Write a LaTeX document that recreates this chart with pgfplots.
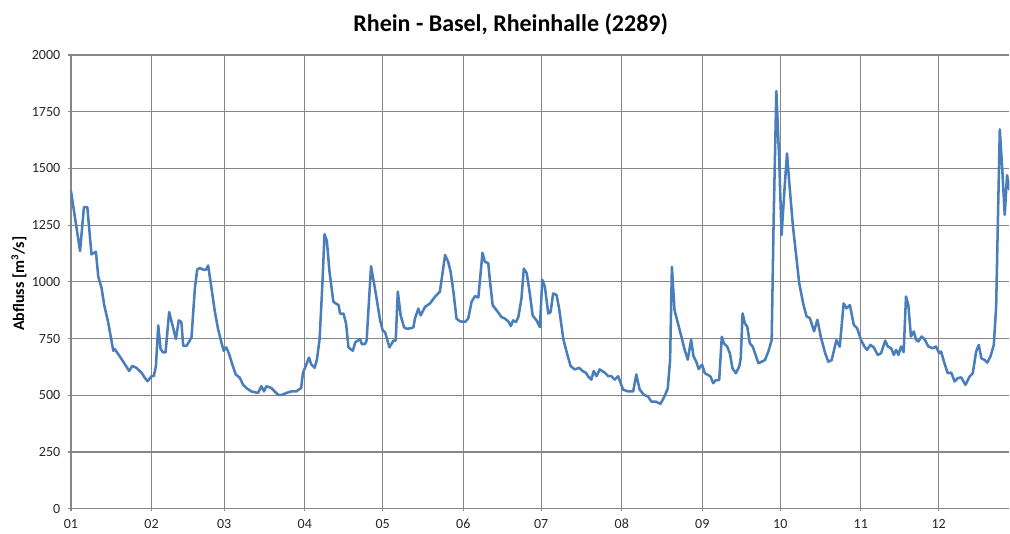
\documentclass[border=0pt]{standalone}
\usepackage{fontspec}
\setmainfont{Carlito}
\usepackage{pgfplots}
\pgfplotsset{compat=1.18}
\definecolor{linie}{RGB}{74,126,187}
\definecolor{gitter}{RGB}{134,134,134}

% Tagesabfluss (Tag des Jahres, m3/s)
\pgfplotstableread{
d q
0 1400
3.5 1136
5 1329
6.3 1329
7.9 1121
9.6 1133
10.5 1024
11.8 972
12.8 897
14.3 823
16.3 696
16.9 703
19.5 659
20.8 636
22.4 607
23.6 629
25.2 621
27.2 599
28.4 577
29.5 562
31 584
31.9 584
32.7 629
33.6 808
34.5 703
35.5 689
36.4 689
37.8 867
39.1 808
40.4 748
41.5 830
42.5 823
43.2 718
44.5 718
45.7 741
46.4 756
47.7 972
48.6 1054
49.6 1061
50.9 1054
52.1 1054
52.8 1072
54.1 972
55.3 875
56.6 793
57.9 733
58.8 696
59.8 711
60.9 681
62.1 636
63.4 592
65 577
66.2 547
67.5 532
69.4 517
72 510
73.3 540
74.3 517
75.2 540
77.1 532
78.4 517
79.7 502
81.3 502
82.9 510
84.8 517
86.7 517
88.6 532
89.3 599
90.6 636
91.6 666
92.5 636
93.8 621
94.7 659
95.7 748
96.7 972
97.6 1210
98.5 1180
99.5 1046
101 912
103 897
103.6 860
104.9 860
105.9 815
106.8 711
108.5 696
109.4 733
111.3 748
111.9 726
113.2 726
113.8 741
115.5 1069
117.1 964
119 830
120 785
120.9 778
122.6 711
124.1 741
125 741
125.8 957
126.9 852
128.2 800
129.2 793
131.1 796
131.8 800
132.4 838
133.7 882
134.6 852
136.3 890
138.2 905
140.1 934
142 957
144 1118
145.2 1088
146.1 1046
147.2 957
148.4 838
149.7 826
151.7 823
152.9 838
154.2 912
155.5 937
156.8 931
158.4 1128
159.3 1088
160.6 1083
161.3 1001
162.3 897
163.8 875
165.7 845
167 838
168.3 826
169.3 805
170.2 830
171.3 823
172.2 845
173.4 927
174.3 1058
175.4 1039
176.6 949
177.7 852
179.2 830
180.5 800
181.4 1009
182.4 979
183.7 860
184.6 867
185.6 949
186.9 942
187.9 882
189.5 748
191 681
192.3 629
193.9 614
195.6 621
196.9 607
198.2 599
199 584
200.3 569
201.2 607
202.3 584
203.5 614
205.5 599
206.8 584
208 584
209.3 569
210.6 584
212.5 525
214.4 517
216.4 517
217.6 592
218.9 525
220.5 502
222.1 495
223.4 472
225.1 472
226.9 462
228.4 494
229.7 530
230.6 654
231.3 1066
232.3 876
233.6 818
234.9 760
236.2 701
237.4 657
238.7 745
239.6 672
240.6 650
241.6 616
242.9 635
244 597
245.3 589
246.2 582
247.2 553
248.2 567
249.5 567
250.5 758
251.3 729
252.6 714
253.6 685
254.6 619
255.9 597
257.2 626
257.8 663
258.5 861
259.4 817
260.3 802
261.3 729
262.4 714
263.3 685
264.6 641
265.8 648
267.1 655
268.4 692
269.7 743
270.5 1301
271.5 1841
272.6 1536
273.5 1206
274.7 1419
275.6 1566
276.6 1419
277.9 1243
278.9 1140
280.3 994
281.8 906
283.1 848
284.4 840
286 782
287.3 833
288.6 758
290.3 685
291.5 648
292.8 655
294.6 743
295.9 714
297.4 905
298.5 883
299.8 898
301.3 810
302.6 795
304.1 743
305.4 715
306.4 700
307.7 722
309 711
310.5 678
311.8 685
313.4 741
314.4 715
315.7 707
316.7 678
317.6 700
318.5 678
319.5 715
320.5 690
321.4 935
322.3 898
323.3 759
324.4 781
325.3 744
326.2 737
327.4 759
328.7 744
330 715
331.7 707
332.9 715
334.2 685
334.9 693
336.2 641
337.5 597
338.8 600
340.1 561
341.3 575
342.6 579
344.3 546
345.9 583
347.1 597
348.4 693
349.4 722
350.4 663
351.6 656
352.7 644
353.9 671
355.2 722
356.1 891
356.8 1287
357.5 1672
358.4 1507
359.4 1295
360.3 1470
361.2 1404
}\abfluss

\begin{document}
\begin{tikzpicture}
\begin{axis}[
    scale only axis, width=704.25pt, height=340.5pt,
    xmin=0, xmax=361.2, ymin=0, ymax=2000,
    axis x line*=bottom, axis y line*=left,
    axis line style={gitter, line width=0.9pt, -},
    xtick={0,31,59,90,120,151,181,212,243,273,304,334},
    xticklabels={01,02,03,04,05,06,07,08,09,10,11,12},
    ytick={0,250,...,2000},
    grid=major,
    major grid style={gitter, line width=0.9pt},
    tick style={gitter, line width=0.9pt},
    major tick length=2pt, tick align=outside,
    tick label style={font=\fontsize{10.5}{12}\selectfont, text=black!85},
    xticklabel style={yshift=-2.5pt},
    yticklabel style={xshift=-2.5pt},
    /pgf/number format/1000 sep={},
    /pgf/number format/assume math mode=true,
    clip=true,
  ]
  \addplot[linie, line width=1.9pt, line join=round] table[x=d, y=q] {\abfluss};
\end{axis}
\node[font=\fontsize{18}{20}\selectfont\bfseries] at (330pt, 363.75pt)
  {Rhein - Basel, Rheinhalle (2289)};
\node[font=\fontsize{12}{14}\selectfont\bfseries, rotate=90] at (-39pt, 168.75pt)
  {Abfluss [m\textsuperscript{3}/s]};
\path (-53.25pt, -16.5pt) rectangle (704.25pt, 381.75pt);
\end{tikzpicture}
\end{document}
